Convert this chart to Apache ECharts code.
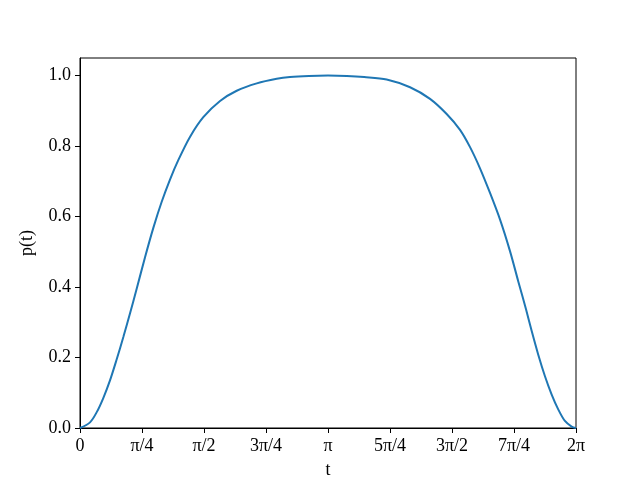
<!DOCTYPE html>
<html>
<head>
<meta charset="utf-8">
<script src="https://cdn.jsdelivr.net/npm/echarts@6/dist/echarts.min.js"></script>
<style>html,body{margin:0;padding:0;background:#fff;}#c{width:640px;height:480px;}</style>
</head>
<body>
<div id="c"></div>
<script>
var PI = Math.PI;
// t values (radians) and p(t)
var tValues = [0, 0.127, 0.212, 0.295, 0.380, 0.465, 0.549, 0.633, 0.718, 0.823, 0.929, 1.035, 1.140, 1.245, 1.393, 1.562, 1.774, 1.985, 2.239, 2.492, 2.660, 2.900, 3.1416, 3.380, 3.600, 3.885, 4.181, 4.434, 4.645, 4.814, 4.941, 5.067, 5.194, 5.320, 5.447, 5.552, 5.650, 5.722, 5.805, 5.890, 5.975, 6.058, 6.143, 6.228, 6.2832];
var pValues = [0, 0.016, 0.045, 0.085, 0.135, 0.195, 0.258, 0.325, 0.395, 0.484, 0.568, 0.642, 0.705, 0.760, 0.826, 0.882, 0.928, 0.957, 0.978, 0.991, 0.996, 0.999, 1.000, 0.999, 0.996, 0.989, 0.967, 0.934, 0.891, 0.846, 0.797, 0.737, 0.667, 0.592, 0.502, 0.416, 0.337, 0.275, 0.208, 0.147, 0.095, 0.053, 0.020, 0.004, 0];
var xTicks = [0, PI/4, PI/2, 3*PI/4, PI, 5*PI/4, 3*PI/2, 7*PI/4, 2*PI];
var xTickLabels = ['0', 'π/4', 'π/2', '3π/4', 'π', '5π/4', '3π/2', '7π/4', '2π'];
var yTicks = [0, 0.2, 0.4, 0.6, 0.8, 1.0];
var yTickLabels = ['0.0', '0.2', '0.4', '0.6', '0.8', '1.0'];

var FONT = 'Liberation Serif';
var chart = echarts.init(document.getElementById('c'), null, {renderer: 'canvas'});
var data = tValues.map(function (t, i) { return [t, pValues[i]]; });
chart.setOption({
  animation: false,
  backgroundColor: '#fff',
  grid: {left: 80, right: 64, top: 58, bottom: 52, containLabel: false, outerBoundsMode: 'none',
         show: true, borderColor: '#000', borderWidth: 1, backgroundColor: 'transparent'},
  xAxis: {
    type: 'value', min: 0, max: 2 * PI,
    name: 't', nameLocation: 'middle', nameGap: 33,
    nameTextStyle: {fontFamily: FONT, fontSize: 18, color: '#000'},
    axisLine: {show: true, lineStyle: {color: '#000', width: 1}},
    axisTick: {show: true, inside: false, length: 5, customValues: xTicks, lineStyle: {color: '#000', width: 1}},
    axisLabel: {
      customValues: xTicks, margin: 9, fontFamily: FONT, fontSize: 18, color: '#000',
      formatter: function (v) {
        for (var i = 0; i < xTicks.length; i++) { if (Math.abs(v - xTicks[i]) < 1e-6) return xTickLabels[i]; }
        return '';
      }
    },
    splitLine: {show: false}
  },
  yAxis: {
    type: 'value', min: 0, max: 1.05,
    name: 'p(t)', nameLocation: 'middle', nameGap: 44,
    nameTextStyle: {fontFamily: FONT, fontSize: 18, color: '#000'},
    axisLine: {show: true, lineStyle: {color: '#000', width: 1}},
    axisTick: {show: true, inside: false, length: 5, customValues: yTicks, lineStyle: {color: '#000', width: 1}},
    axisLabel: {
      customValues: yTicks, margin: 9, fontFamily: FONT, fontSize: 18, color: '#000',
      formatter: function (v) {
        for (var i = 0; i < yTicks.length; i++) { if (Math.abs(v - yTicks[i]) < 1e-6) return yTickLabels[i]; }
        return '';
      }
    },
    splitLine: {show: false}
  },
  series: [{
    type: 'line', data: data, showSymbol: false, smooth: 0.3,
    lineStyle: {color: '#1f77b4', width: 2}, clip: false
  }]
});
</script>
</body>
</html>
